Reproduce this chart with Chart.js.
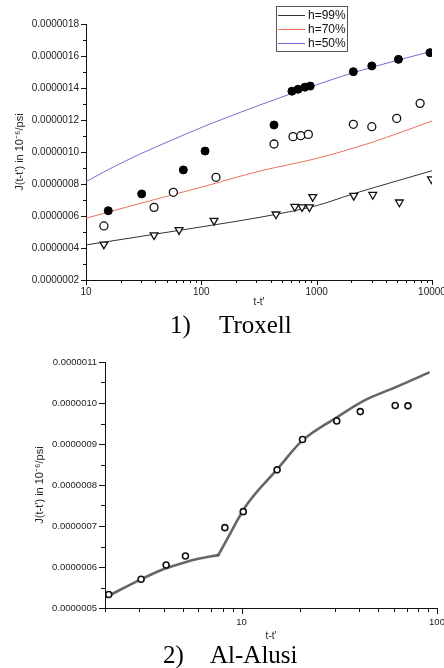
<!DOCTYPE html>
<html><head><meta charset="utf-8">
<script src="https://cdn.jsdelivr.net/npm/chart.js@4.4.1/dist/chart.umd.min.js"></script>
<style>
html,body{margin:0;padding:0;background:#fff;}
body{width:444px;height:668px;position:relative;overflow:hidden;}
canvas{position:absolute;left:0;}
#c1{top:0;} #c2{top:330px;}
.cap{position:absolute;font-family:'Liberation Serif','Times New Roman',serif;font-size:25px;line-height:25px;color:#000;white-space:nowrap;}
</style></head><body>
<canvas id="c1" width="444" height="308"></canvas>
<canvas id="c2" width="444" height="312"></canvas>
<div class="cap" style="left:170px;top:312px">1)</div>
<div class="cap" style="left:219px;top:312px">Troxell</div>
<div class="cap" style="left:163px;top:642px">2)</div>
<div class="cap" style="left:210px;top:642px">Al-Alusi</div>
<script>
// ---------- Chart 1: Troxell ----------
const troxSeriesNames = ['h=99%', 'h=70%', 'h=50%'];
// measured points
const h50PtsX = [15.6, 30.4, 69.8, 107.7, 427, 610, 690, 790, 880, 2080, 3006, 5117, 9610];
const h50PtsY = [6.33e-7, 7.38e-7, 8.88e-7, 1.006e-6, 1.169e-6, 1.38e-6, 1.392e-6, 1.405e-6, 1.412e-6, 1.502e-6, 1.538e-6, 1.579e-6, 1.621e-6];
const h70PtsX = [14.3, 38.9, 57.2, 134, 427, 624, 728, 847, 2080, 3006, 4943, 7890];
const h70PtsY = [5.38e-7, 6.54e-7, 7.48e-7, 8.42e-7, 1.05e-6, 1.096e-6, 1.102e-6, 1.11e-6, 1.173e-6, 1.158e-6, 1.21e-6, 1.304e-6];
const h99PtsX = [14.3, 38.9, 64.1, 128.8, 444, 646, 747, 865, 925, 2097, 3064, 5213, 9890];
const h99PtsY = [4.23e-7, 4.81e-7, 5.13e-7, 5.71e-7, 6.11e-7, 6.58e-7, 6.56e-7, 6.56e-7, 7.2e-7, 7.27e-7, 7.33e-7, 6.86e-7, 8.31e-7];
// model curves
const h99LineX = [10, 100, 323, 1000, 2000, 5000, 10000];
const h99LineY = [4.19e-7, 5.32e-7, 5.92e-7, 6.65e-7, 7.35e-7, 8.2e-7, 8.83e-7];
const h70LineX = [10, 30, 100, 323, 1000, 3000, 10000];
const h70LineY = [5.86e-7, 6.8e-7, 7.8e-7, 8.81e-7, 9.6e-7, 1.06e-6, 1.194e-6];
const h50LineX = [10, 16, 30, 60, 108, 150, 323, 1000, 2000, 5000, 10000];
const h50LineY = [8.14e-7, 8.94e-7, 9.9e-7, 1.085e-6, 1.163e-6, 1.203e-6, 1.294e-6, 1.42e-6, 1.492e-6, 1.573e-6, 1.63e-6];
const troxXTickLabels = [10, 100, 1000, 10000];
const troxYTickLabels = [2e-7, 4e-7, 6e-7, 8e-7, 1e-6, 1.2e-6, 1.4e-6, 1.6e-6, 1.8e-6];

// ---------- Chart 2: Al-Alusi ----------
const alusiPtsX = [2.09, 3.06, 4.11, 5.16, 8.21, 10.2, 15.2, 20.5, 30.7, 40.5, 61.1, 71];
const alusiPtsY = [5.33e-7, 5.70e-7, 6.05e-7, 6.27e-7, 6.96e-7, 7.35e-7, 8.37e-7, 9.11e-7, 9.56e-7, 9.79e-7, 9.94e-7, 9.93e-7];
// model curve: two branches meeting at the kink (t-t' ≈ 7.6)
const alusiLineLowX = [2.05, 3, 4, 5, 6, 7.6];
const alusiLineLowY = [5.28e-7, 5.68e-7, 5.95e-7, 6.1e-7, 6.2e-7, 6.29e-7];
const alusiLineHighX = [7.6, 8.3, 10.6, 15.2, 20.3, 30.7, 42.8, 61.1, 90.6];
const alusiLineHighY = [6.29e-7, 6.62e-7, 7.51e-7, 8.38e-7, 9.07e-7, 9.65e-7, 1.007e-6, 1.038e-6, 1.074e-6];
const alusiXTickLabels = [10, 100];
const alusiYTickLabels = [5e-7, 6e-7, 7e-7, 8e-7, 9e-7, 1e-6, 1.1e-6];

const xyOf = (xs, ys) => xs.map((x, i) => ({x, y: ys[i]}));
const FONT = "'Liberation Sans', Arial, sans-serif";
Chart.defaults.font.family = FONT;
Chart.defaults.color = '#222';

function logTicks(min, max, majors) {
  const vals = [];
  for (let e = Math.floor(Math.log10(min)); e <= Math.ceil(Math.log10(max)); e++) {
    for (let k = 1; k <= 9; k++) {
      const v = k * Math.pow(10, e);
      if (v >= min - 1e-9 && v <= max + 1e-9) vals.push(v);
    }
  }
  return vals.map(v => ({value: v, major: majors.some(m => Math.abs(m - v) < 1e-9)}));
}
function linTicks(majors) {
  const out = [];
  majors.forEach((m, i) => {
    out.push({value: m, major: true});
    if (i < majors.length - 1) out.push({value: (m + majors[i + 1]) / 2, major: false});
  });
  return out;
}

const tickMarks = {
  id: 'tickMarks',
  afterDraw(chart, args, opts) {
    const {ctx, chartArea} = chart;
    const xs = chart.scales.x, ys = chart.scales.y;
    ctx.save();
    ctx.strokeStyle = '#111';
    ctx.lineWidth = 1;
    ctx.beginPath();
    xs.ticks.forEach(t => {
      const px = Math.round(xs.getPixelForValue(t.value)) + 0.5;
      const len = t.major ? opts.major : opts.minor;
      ctx.moveTo(px, chartArea.bottom);
      ctx.lineTo(px, chartArea.bottom + len);
    });
    ys.ticks.forEach(t => {
      const py = Math.round(ys.getPixelForValue(t.value)) + 0.5;
      const len = t.major ? opts.major : opts.minor;
      ctx.moveTo(chartArea.left, py);
      ctx.lineTo(chartArea.left - len, py);
    });
    ctx.stroke();
    ctx.restore();
  }
};

const boxLegend = {
  id: 'boxLegend',
  afterDraw(chart) {
    const ctx = chart.ctx;
    const items = chart.data.datasets.filter(d => d.showLine);
    ctx.save();
    ctx.fillStyle = '#fff';
    ctx.fillRect(276.5, 6.5, 71, 45);
    ctx.strokeStyle = '#555';
    ctx.lineWidth = 1;
    ctx.strokeRect(276.5, 6.5, 71, 45);
    ctx.font = '12px ' + FONT;
    ctx.textBaseline = 'middle';
    items.forEach((d, i) => {
      const y = 15.5 + i * 14;
      ctx.strokeStyle = d.borderColor;
      ctx.beginPath();
      ctx.moveTo(278, y);
      ctx.lineTo(305, y);
      ctx.stroke();
      ctx.fillStyle = '#111';
      ctx.fillText(d.label, 308, y + 0.5);
    });
    ctx.restore();
  }
};

function baseScales(cfg) {
  return {
    x: {
      type: 'logarithmic', min: cfg.xmin, max: cfg.xmax,
      grid: {display: false, drawTicks: false},
      border: {display: true, color: '#111', width: 1},
      afterBuildTicks: a => { a.ticks = logTicks(cfg.xmin, cfg.xmax, cfg.xLabels); },
      afterFit: s => { s.height = cfg.xHeight; s.paddingRight = 0; s.paddingLeft = 0; },
      ticks: {
        autoSkip: false, maxRotation: 0, minRotation: 0, padding: cfg.xPad,
        font: {size: cfg.tickSize}, color: '#222',
        callback: v => cfg.xLabels.some(m => Math.abs(m - v) < 1e-9) ? String(v) : ''
      },
      title: {display: true, text: "t-t'", font: {size: 10}, color: '#222', padding: {top: 0, bottom: 0}}
    },
    y: {
      type: 'linear', min: cfg.ymin, max: cfg.ymax,
      grid: {display: false, drawTicks: false},
      border: {display: true, color: '#111', width: 1},
      afterBuildTicks: a => { a.ticks = linTicks(cfg.yLabels); },
      afterFit: s => { s.width = cfg.yWidth; },
      ticks: {
        autoSkip: false, padding: cfg.yPad, font: {size: cfg.tickSize}, color: '#222',
        callback: v => cfg.yLabels.some(m => Math.abs(m - v) < 1e-12) ? v.toFixed(7) : ''
      },
      title: {display: true, text: 'J(t-t\') in 10\u207B\u2076/psi', font: {size: 11}, color: '#222',
              padding: {top: cfg.yTitlePad, bottom: 0}}
    }
  };
}

new Chart(document.getElementById('c1'), {
  type: 'scatter',
  data: {
    datasets: [
      {label: 'h50 data', data: xyOf(h50PtsX, h50PtsY), pointStyle: 'circle', pointRadius: 4,
       backgroundColor: '#000', borderColor: '#000', borderWidth: 1, showLine: false},
      {label: 'h70 data', data: xyOf(h70PtsX, h70PtsY), pointStyle: 'circle', pointRadius: 4,
       backgroundColor: '#fff', borderColor: '#111', borderWidth: 1.3, showLine: false},
      {label: 'h99 data', data: xyOf(h99PtsX, h99PtsY), pointStyle: 'triangle', rotation: 180, pointRadius: 4.5,
       backgroundColor: '#fff', borderColor: '#111', borderWidth: 1.3, showLine: false},
      {label: troxSeriesNames[0], data: xyOf(h99LineX, h99LineY), showLine: true, borderColor: '#333',
       borderWidth: 1, pointRadius: 0, cubicInterpolationMode: 'monotone'},
      {label: troxSeriesNames[1], data: xyOf(h70LineX, h70LineY), showLine: true, borderColor: 'rgb(240,110,90)',
       borderWidth: 1, pointRadius: 0, cubicInterpolationMode: 'monotone'},
      {label: troxSeriesNames[2], data: xyOf(h50LineX, h50LineY), showLine: true, borderColor: 'rgb(110,110,215)',
       borderWidth: 1, pointRadius: 0, cubicInterpolationMode: 'monotone'}
    ]
  },
  options: {
    responsive: false, animation: false, devicePixelRatio: 1,
    layout: {padding: {top: 24, right: 12, left: 0, bottom: 0}},
    plugins: {legend: {display: false}, tooltip: {enabled: false}, tickMarks: {major: 5, minor: 3}},
    scales: baseScales({xmin: 10, xmax: 10000, xLabels: troxXTickLabels, xHeight: 28, xPad: 6,
      ymin: 2e-7, ymax: 1.8e-6, yLabels: troxYTickLabels, yWidth: 86, yPad: 7, yTitlePad: 13, tickSize: 10})
  },
  plugins: [tickMarks, boxLegend]
});

new Chart(document.getElementById('c2'), {
  type: 'scatter',
  data: {
    datasets: [
      {label: 'Al-Alusi data', data: xyOf(alusiPtsX, alusiPtsY), pointStyle: 'circle', pointRadius: 3,
       backgroundColor: '#fff', borderColor: '#111', borderWidth: 1.6, showLine: false},
      {label: 'model', data: xyOf(alusiLineLowX, alusiLineLowY), showLine: true, borderColor: 'rgba(85,85,85,0.9)',
       borderWidth: 2.6, pointRadius: 0, cubicInterpolationMode: 'monotone', borderCapStyle: 'round'},
      {label: 'model (upper)', data: xyOf(alusiLineHighX, alusiLineHighY), showLine: true, borderColor: 'rgba(85,85,85,0.9)',
       borderWidth: 2.6, pointRadius: 0, cubicInterpolationMode: 'monotone', borderCapStyle: 'round'}
    ]
  },
  options: {
    responsive: false, animation: false, devicePixelRatio: 1,
    layout: {padding: {top: 32, right: 7, left: 0, bottom: 0}},
    plugins: {legend: {display: false}, tooltip: {enabled: false}, tickMarks: {major: 6, minor: 4}},
    scales: baseScales({xmin: 2, xmax: 100, xLabels: alusiXTickLabels, xHeight: 34, xPad: 9,
      ymin: 5e-7, ymax: 1.1e-6, yLabels: alusiYTickLabels, yWidth: 105, yPad: 8, yTitlePad: 33, tickSize: 9.5})
  },
  plugins: [tickMarks]
});
</script>
</body></html>
